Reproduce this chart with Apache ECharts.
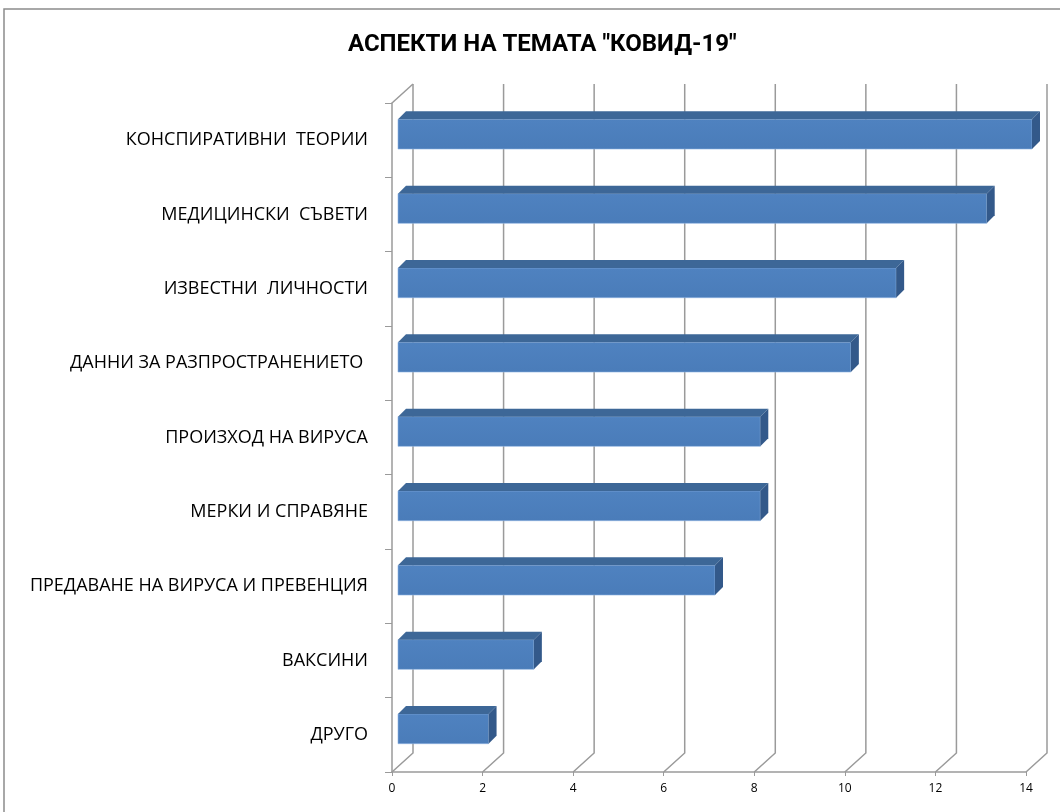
<!DOCTYPE html>
<html><head><meta charset="utf-8">
<script src="https://cdn.jsdelivr.net/npm/echarts@6/dist/echarts.min.js"></script>
<style>html,body{margin:0;padding:0;background:#fff}#c{width:1060px;height:812px}</style>
</head><body><div id="c"></div>
<script>
const title = 'АСПЕКТИ НА ТЕМАТА "КОВИД-19"';
const categories = ["КОНСПИРАТИВНИ  ТЕОРИИ", "МЕДИЦИНСКИ  СЪВЕТИ", "ИЗВЕСТНИ  ЛИЧНОСТИ", "ДАННИ ЗА РАЗПРОСТРАНЕНИЕТО ", "ПРОИЗХОД НА ВИРУСА", "МЕРКИ И СПРАВЯНЕ", "ПРЕДАВАНЕ НА ВИРУСА И ПРЕВЕНЦИЯ", "ВАКСИНИ", "ДРУГО"];
const values = [14, 13, 11, 10, 8, 8, 7, 3, 2];
const xTicks = [0, 2, 4, 6, 8, 10, 12, 14];

const chart = echarts.init(document.getElementById('c'));
const GRAY = '#9a9a9a';
const DX = 21, DY = -19;      // depth of the wall
const BX = 6, BY = -6, BD = 8; // bar placement and bar depth

const wallSeries = {
  type: 'custom', z: 1, silent: true,
  data: xTicks.map(v => [v, 0]),
  encode: {x: 0, y: 1},
  renderItem(params, api) {
    const cs = params.coordSys;
    const x = api.coord([api.value(0), 0])[0];
    const bottom = cs.y + cs.height, top = cs.y;
    const ls = {stroke: GRAY, lineWidth: 1.5, fill: null};
    const ch = [
      {type: 'polyline', shape: {points: [[x, bottom], [x + DX, bottom + DY], [x + DX, top + DY]]}, style: ls}
    ];
    if (api.value(0) === 0) {
      ch.push({type: 'line', shape: {x1: x, y1: top, x2: x + DX, y2: top + DY}, style: ls});
    }
    return {type: 'group', children: ch};
  }
};

const barSeries = {
  type: 'custom', z: 3,
  data: values.map((v, i) => [v, i]),
  encode: {x: 0, y: 1},
  renderItem(params, api) {
    const v = api.value(0), c = api.value(1);
    const p0 = api.coord([0, c]), p1 = api.coord([v, c]);
    const band = api.size([0, 1])[1];
    const h = band * 0.40;
    const x0 = p0[0] + BX, x1 = p1[0] + BX, yc = p0[1] + BY;
    const t = yc - h / 2, b = yc + h / 2;
    return {type: 'group', children: [
      {type: 'rect', shape: {x: x0, y: t, width: x1 - x0, height: h},
        style: {fill: new echarts.graphic.LinearGradient(0, 0, 0, 1, [{offset: 0, color: '#4f82c0'}, {offset: 1, color: '#4a7cb9'}]), stroke: '#8fb4e3', lineWidth: 0.6}},
      {type: 'polygon', shape: {points: [[x0, t], [x0 + BD, t - BD], [x1 + BD, t - BD], [x1, t]]},
        style: {fill: '#3d6797'}},
      {type: 'polygon', shape: {points: [[x1, t], [x1 + BD, t - BD], [x1 + BD, b - BD], [x1, b]]},
        style: {fill: '#33598a'}}
    ]};
  }
};

chart.setOption({
  animation: false,
  backgroundColor: '#fff',
  title: {
    text: title, left: 343, top: 28,
    textStyle: {fontFamily: 'Roboto, sans-serif', fontWeight: 'bold', fontSize: 24, color: '#000'}
  },
  graphic: [{
    type: 'rect', shape: {x: 4, y: 9, width: 1080, height: 830},
    style: {fill: null, stroke: '#8c8c8c', lineWidth: 1.5}, silent: true, z: 0
  }],
  grid: {left: 392, top: 103, width: 634, height: 669, containLabel: false},
  xAxis: {
    type: 'value', min: 0, max: 14, interval: 2,
    splitLine: {show: false},
    axisLine: {show: true, lineStyle: {color: GRAY, width: 1.5}},
    axisTick: {show: true, length: 4, lineStyle: {color: GRAY}},
    axisLabel: {color: '#000', fontSize: 12, margin: 11, fontFamily: 'Open Sans, sans-serif'}
  },
  yAxis: {
    type: 'category', data: categories, inverse: true,
    axisLine: {show: true, lineStyle: {color: GRAY, width: 1.5}},
    axisTick: {show: true, length: 7, inside: false, lineStyle: {color: GRAY}},
    axisLabel: {color: '#000', fontSize: 18, margin: 24, fontFamily: 'Open Sans, sans-serif'}
  },
  series: [wallSeries, barSeries]
});
</script>
</body></html>
